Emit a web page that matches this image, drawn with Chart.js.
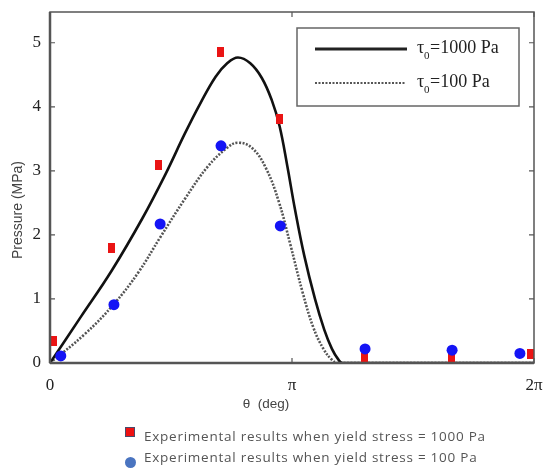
<!DOCTYPE html>
<html>
<head>
<meta charset="utf-8">
<script src="https://cdn.jsdelivr.net/npm/chart.js@4.4.1/dist/chart.umd.min.js"></script>
<style>
    body { margin: 0; background: #fff; }
    #wrap { position: relative; width: 545px; height: 468px; }
    .leg { position: absolute; left: 144px; font-family: "Open Sans", sans-serif; font-size: 13.5px; letter-spacing: 0.75px; color: #555; white-space: nowrap; line-height: 16px; }
    #mark1 { position: absolute; left: 125px; top: 427px; width: 8px; height: 8px; background: #ee1111; border: 1px solid #4a4a6a; }
    #mark2 { position: absolute; left: 125px; top: 457px; width: 11px; height: 11px; border-radius: 50%; background: #4a74c0; }
</style>
</head>
<body>
<div id="wrap">
    <canvas id="grafico" width="545" height="468"></canvas>
    <div id="mark1"></div>
    <div class="leg" id="leg1" style="top:428px">Experimental results when yield stress = 1000 Pa</div>
    <div id="mark2"></div>
    <div class="leg" id="leg2" style="top:449px">Experimental results when yield stress = 100 Pa</div>
</div>
<script>
//Experimental points (theta in rad, pressure in MPa)
const thetaRed = [0.05, 0.80, 1.41, 2.21, 2.98, 4.08, 5.21, 6.24];
const pressureRed = [0.35, 1.79, 3.09, 4.85, 3.81, 0.08, 0.08, 0.14];
const thetaBlue = [0.14, 0.83, 1.43, 2.22, 2.99, 4.09, 5.22, 6.10];
const pressureBlue = [0.11, 0.91, 2.17, 3.39, 2.14, 0.22, 0.20, 0.15];

//Model curves
const theta1000 = [0, 0.4, 0.8, 1.2, 1.5, 1.75, 1.95, 2.15, 2.30, 2.44, 2.6, 2.75, 2.88, 2.98, 3.08, 3.18, 3.30, 3.44, 3.56, 3.66, 3.74, 3.80, 6.28];
const pressure1000 = [0, 0.72, 1.44, 2.26, 2.95, 3.58, 4.05, 4.47, 4.68, 4.77, 4.68, 4.45, 4.10, 3.70, 3.08, 2.40, 1.68, 1.00, 0.52, 0.22, 0.06, 0, 0];
const theta100 = [0, 0.45, 0.83, 1.15, 1.43, 1.75, 2.05, 2.30, 2.44, 2.62, 2.80, 2.97, 3.12, 3.28, 3.42, 3.55, 3.66, 3.74, 6.28];
const pressure100 = [0, 0.45, 0.92, 1.42, 1.96, 2.56, 3.07, 3.36, 3.44, 3.36, 3.05, 2.52, 1.85, 1.10, 0.55, 0.22, 0.05, 0, 0];

//Axis ticks
const xTicks = [0, Math.PI, 2 * Math.PI];
const xTickLabels = ["0", "\u03c0", "2\u03c0"];
const yTicks = [0, 1, 2, 3, 4, 5];

const toPoints = (xs, ys) => xs.map((v, i) => ({ x: v, y: ys[i] }));

//red marker is a small upright rectangle
const redMark = document.createElement("canvas");
redMark.width = 7;
redMark.height = 10;
const rc = redMark.getContext("2d");
rc.fillStyle = "#ea1414";
rc.fillRect(0, 0, 7, 10);

//frame, ticks, labels and inner legend
const frame = {
    id: "frame",
    afterDraw(chart) {
        const { ctx, chartArea: a, scales: { x, y } } = chart;
        ctx.save();
        ctx.strokeStyle = "#555";
        ctx.lineWidth = 1.5;
        ctx.strokeRect(a.left, a.top, a.right - a.left, a.bottom - a.top);
        ctx.lineWidth = 2.5;
        ctx.beginPath();
        ctx.moveTo(a.left, a.bottom);
        ctx.lineTo(a.right, a.bottom);
        ctx.moveTo(a.left, a.top);
        ctx.lineTo(a.left, a.bottom);
        ctx.stroke();

        ctx.lineWidth = 1.2;
        ctx.beginPath();
        yTicks.forEach((v) => {
            const py = y.getPixelForValue(v);
            ctx.moveTo(a.left, py);
            ctx.lineTo(a.left + 5, py);
            ctx.moveTo(a.right, py);
            ctx.lineTo(a.right - 5, py);
        });
        xTicks.forEach((v) => {
            const px = x.getPixelForValue(v);
            ctx.moveTo(px, a.bottom);
            ctx.lineTo(px, a.bottom - 5);
            ctx.moveTo(px, a.top);
            ctx.lineTo(px, a.top + 5);
        });
        ctx.stroke();

        ctx.fillStyle = "#222";
        ctx.font = "17px 'Liberation Serif', serif";
        ctx.textAlign = "right";
        ctx.textBaseline = "middle";
        yTicks.forEach((v) => {
            ctx.fillText(String(v), a.left - 9, y.getPixelForValue(v));
        });
        ctx.textAlign = "center";
        xTicks.forEach((v, i) => {
            ctx.fillText(xTickLabels[i], x.getPixelForValue(v), a.bottom + 23);
        });

        //axis titles
        ctx.fillStyle = "#444";
        ctx.font = "13.5px 'Liberation Sans', Arial, sans-serif";
        ctx.fillText("\u03b8  (deg)", 266, 404);
        ctx.save();
        ctx.translate(18, 210);
        ctx.rotate(-Math.PI / 2);
        ctx.font = "14px 'Liberation Sans', Arial, sans-serif";
        ctx.fillText("Pressure (MPa)", 0, 0);
        ctx.restore();

        //legend box
        ctx.fillStyle = "#fff";
        ctx.fillRect(297, 28, 222, 78);
        ctx.strokeStyle = "#666";
        ctx.lineWidth = 1.5;
        ctx.strokeRect(297, 28, 222, 78);
        ctx.strokeStyle = "#222";
        ctx.lineWidth = 3;
        ctx.beginPath();
        ctx.moveTo(315, 49);
        ctx.lineTo(407, 49);
        ctx.stroke();
        ctx.strokeStyle = "#555";
        ctx.lineWidth = 2.2;
        ctx.setLineDash([2, 1.5]);
        ctx.beginPath();
        ctx.moveTo(315, 83);
        ctx.lineTo(405, 83);
        ctx.stroke();
        ctx.setLineDash([]);

        ctx.fillStyle = "#222";
        ctx.textAlign = "left";
        const legendLabels = ["=1000 Pa", "=100 Pa"];
        [48, 82].forEach((ly, i) => {
            ctx.font = "18px 'Liberation Serif', serif";
            ctx.fillText("\u03c4", 417, ly);
            ctx.font = "11px 'Liberation Serif', serif";
            ctx.fillText("0", 424, ly + 8);
            ctx.font = "18px 'Liberation Serif', serif";
            ctx.fillText(legendLabels[i], 430, ly);
        });
        ctx.restore();
    }
};

new Chart(document.getElementById("grafico"), {
    type: "scatter",
    data: {
        datasets: [
            {
                label: "Experimental 100 Pa",
                data: toPoints(thetaBlue, pressureBlue),
                pointStyle: "circle",
                pointRadius: 5.5,
                backgroundColor: "#1414f5",
                borderColor: "#1414f5",
                borderWidth: 0
            },
            {
                label: "Experimental 1000 Pa",
                data: toPoints(thetaRed, pressureRed),
                pointStyle: redMark,
                pointRadius: 5
            },
            {
                label: "tau0 = 1000 Pa",
                data: toPoints(theta1000, pressure1000),
                showLine: true,
                pointRadius: 0,
                borderColor: "#111",
                borderWidth: 2.6,
                tension: 0.4
            },
            {
                label: "tau0 = 100 Pa",
                data: toPoints(theta100, pressure100),
                showLine: true,
                pointRadius: 0,
                borderColor: "#555",
                borderWidth: 2.6,
                borderDash: [2, 1.5],
                tension: 0.4
            }
        ]
    },
    options: {
        responsive: false,
        animation: false,
        layout: { padding: { left: 50, top: 12, right: 11, bottom: 105 } },
        scales: {
            x: { type: "linear", min: 0, max: 2 * Math.PI, display: false },
            y: { type: "linear", min: 0, max: 5.48, display: false }
        },
        plugins: {
            legend: { display: false },
            tooltip: { enabled: false }
        }
    },
    plugins: [frame]
});
</script>
</body>
</html>
